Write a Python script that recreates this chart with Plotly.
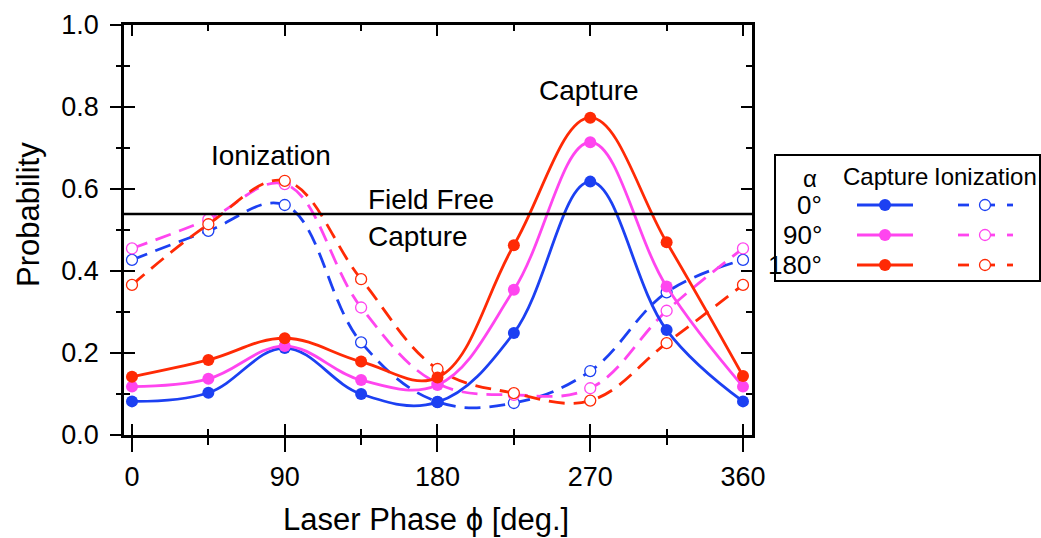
import plotly.graph_objects as go

# ---------------- data ----------------
phase = [0, 45, 90, 135, 180, 225, 270, 315, 360]

capture_0 = [0.082, 0.103, 0.212, 0.100, 0.080, 0.249, 0.618, 0.256, 0.082]
capture_90 = [0.118, 0.137, 0.217, 0.134, 0.122, 0.354, 0.714, 0.362, 0.118]
capture_180 = [0.142, 0.183, 0.236, 0.179, 0.140, 0.463, 0.774, 0.470, 0.144]

ioniz_0 = [0.427, 0.498, 0.561, 0.226, 0.081, 0.078, 0.156, 0.348, 0.427]
ioniz_90 = [0.455, 0.526, 0.612, 0.311, 0.126, 0.098, 0.114, 0.303, 0.455]
ioniz_180 = [0.366, 0.514, 0.620, 0.380, 0.161, 0.102, 0.084, 0.224, 0.366]

field_free_capture = 0.539

alpha_labels = ["0°", "90°", "180°"]
x_ticks = [0, 90, 180, 270, 360]
x_minor = [45, 135, 225, 315]
y_ticks = [0.0, 0.2, 0.4, 0.6, 0.8, 1.0]

# ---------------- style ----------------
FONT = "Liberation Sans, Arial, Helvetica, sans-serif"
BLUE = "#1c40f2"
MAGENTA = "#ff45ef"
RED = "#ff2a05"
colors = [BLUE, MAGENTA, RED]

W, H = 1041, 538


def px(x):
    return x / W


def py(y):
    return 1 - y / H


fig = go.Figure()

captures = [capture_0, capture_90, capture_180]
ionizs = [ioniz_0, ioniz_90, ioniz_180]

for vals, c in zip(ionizs, colors):
    fig.add_trace(go.Scatter(
        x=phase, y=vals, mode="lines+markers",
        line=dict(color=c, width=2.8, dash="16px,9px", shape="spline", smoothing=1.1),
        marker=dict(symbol="circle", size=11, color="white", line=dict(color=c, width=1.3)),
        showlegend=False, hoverinfo="skip"))

for vals, c in zip(captures, colors):
    fig.add_trace(go.Scatter(
        x=phase, y=vals, mode="lines+markers",
        line=dict(color=c, width=2.8, shape="spline", smoothing=1.1),
        marker=dict(symbol="circle", size=12, color=c, line=dict(width=0)),
        showlegend=False, hoverinfo="skip"))

fig.add_hline(y=field_free_capture, line=dict(color="black", width=2.5))

# overlay axes for the inner (mirrored) ticks
fig.add_trace(go.Scatter(x=[], y=[], xaxis="x2", yaxis="y2", showlegend=False, hoverinfo="skip"))

# ---------------- legend samples (separate small axes) ----------------
row_y = [205, 235, 265]
for c, ry in zip(colors, row_y):
    fig.add_trace(go.Scatter(x=[857, 913], y=[ry, ry], mode="lines", line=dict(color=c, width=2.8),
                             xaxis="x3", yaxis="y3", showlegend=False, hoverinfo="skip"))
    fig.add_trace(go.Scatter(x=[885], y=[ry], mode="markers",
                             marker=dict(symbol="circle", size=12, color=c),
                             xaxis="x3", yaxis="y3", showlegend=False, hoverinfo="skip"))
    fig.add_trace(go.Scatter(x=[958, 969, None, 985, 995, None, 1007, 1013], y=[ry] * 8,
                             mode="lines", line=dict(color=c, width=2.8),
                             xaxis="x3", yaxis="y3", showlegend=False, hoverinfo="skip"))
    fig.add_trace(go.Scatter(x=[985], y=[ry], mode="markers",
                             marker=dict(symbol="circle", size=11, color="white", line=dict(color=c, width=1.3)),
                             xaxis="x3", yaxis="y3", showlegend=False, hoverinfo="skip"))

x_range = [-4.7, 365.3]
y_range = [0, 1.0]
x_dom = [px(124), px(752)]
y_dom = [py(435), py(25)]

common = dict(showgrid=False, zeroline=False, linecolor="black", tickcolor="black",
              tickwidth=2, linewidth=2.5, automargin=False)

fig.update_layout(
    template="none",
    width=W, height=H,
    margin=dict(l=0, r=0, t=0, b=0, pad=0, autoexpand=False),
    paper_bgcolor="white", plot_bgcolor="rgba(0,0,0,0)",
    font=dict(family=FONT, color="black"),
    xaxis=dict(domain=x_dom, range=x_range, tickvals=x_ticks, ticks="outside", ticklen=14,
               showline=True, mirror=False, tickfont=dict(size=27, family=FONT),
               ticklabelstandoff=2,
               minor=dict(tickvals=x_minor, ticks="outside", ticklen=7, tickwidth=2, tickcolor="black"),
               anchor="y", **common),
    yaxis=dict(domain=y_dom, range=y_range, tickvals=y_ticks, tickformat=".1f", ticks="outside",
               ticklen=11, showline=True, mirror=False, tickfont=dict(size=27, family=FONT),
               ticklabelstandoff=6,
               minor=dict(dtick=0.1, ticks="outside", ticklen=5, tickwidth=2, tickcolor="black"),
               anchor="x", **common),
    xaxis2=dict(domain=x_dom, range=x_range, overlaying="x", anchor="y2", side="bottom",
                tickvals=x_ticks, ticks="inside", ticklen=11, showline=True, mirror="ticks",
                showticklabels=False,
                minor=dict(tickvals=x_minor, ticks="inside", ticklen=6, tickwidth=2, tickcolor="black"),
                **common),
    yaxis2=dict(domain=y_dom, range=y_range, overlaying="y", anchor="x2", side="left",
                tickvals=y_ticks, ticks="inside", ticklen=11, showline=True, mirror="ticks",
                showticklabels=False,
                minor=dict(dtick=0.1, ticks="inside", ticklen=6, tickwidth=2, tickcolor="black"),
                **common),
    xaxis3=dict(domain=[px(776), px(1039)], range=[776, 1039], anchor="y3", automargin=False,
                showline=True, mirror=True, showticklabels=False, ticks="", fixedrange=True,
                showgrid=False, zeroline=False, linecolor="black", linewidth=2),
    yaxis3=dict(domain=[py(280), py(156)], range=[280, 156], anchor="x3", automargin=False,
                showline=True, mirror=True, showticklabels=False, ticks="", fixedrange=True,
                showgrid=False, zeroline=False, linecolor="black", linewidth=2),
)

ann = []
# axis titles
ann.append(dict(text="Probability", x=px(28), y=py(215), xref="paper", yref="paper",
                textangle=-90, showarrow=False, font=dict(size=31, family=FONT),
                xanchor="center", yanchor="middle"))
ann.append(dict(text="Laser Phase ϕ [deg.]", x=px(426), y=py(519), xref="paper", yref="paper",
                showarrow=False, font=dict(size=31, family=FONT), xanchor="center", yanchor="middle"))
# in-plot labels
ann.append(dict(text="Capture", x=px(589), y=py(91), xref="paper", yref="paper", showarrow=False,
                font=dict(size=28, family=FONT), xanchor="center", yanchor="middle"))
ann.append(dict(text="Ionization", x=px(271), y=py(155), xref="paper", yref="paper", showarrow=False,
                font=dict(size=28, family=FONT), xanchor="center", yanchor="middle"))
ann.append(dict(text="Field Free", x=px(366), y=py(199), xref="paper", yref="paper", showarrow=False,
                font=dict(size=28, family=FONT), xanchor="left", yanchor="middle"))
ann.append(dict(text="Capture", x=px(366), y=py(236), xref="paper", yref="paper", showarrow=False,
                font=dict(size=28, family=FONT), xanchor="left", yanchor="middle"))
# legend texts
ann.append(dict(text="α", x=810, y=178, xref="x3", yref="y3", showarrow=False,
                font=dict(size=24, family=FONT), xanchor="center", yanchor="middle"))
ann.append(dict(text="Capture", x=885, y=176, xref="x3", yref="y3", showarrow=False,
                font=dict(size=24, family=FONT), xanchor="center", yanchor="middle"))
ann.append(dict(text="Ionization", x=985, y=176, xref="x3", yref="y3", showarrow=False,
                font=dict(size=24, family=FONT), xanchor="center", yanchor="middle"))
for lab, ry in zip(alpha_labels, row_y):
    ann.append(dict(text=lab, x=824, y=ry, xref="x3", yref="y3", showarrow=False,
                    font=dict(size=26, family=FONT), xanchor="right", yanchor="middle"))

fig.update_layout(annotations=ann)

fig.write_html("out.html")
